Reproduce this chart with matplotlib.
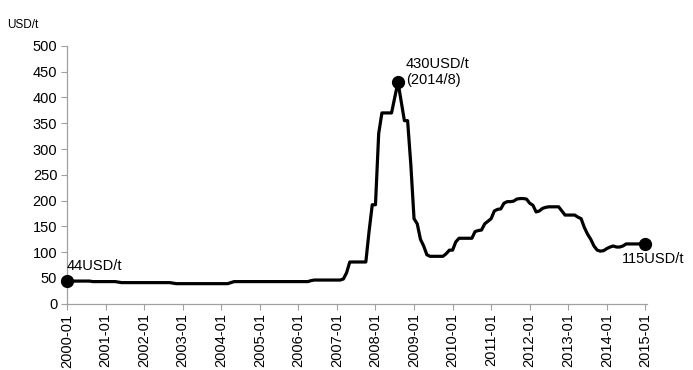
import matplotlib
matplotlib.use("Agg")
import matplotlib.pyplot as plt
import numpy as np

plt.rcParams['font.family'] = ['Liberation Sans', 'DejaVu Sans']

years = list(range(2000, 2016))
p2000 = [44, 44, 44, 44, 44, 44, 44, 44, 43, 43, 43, 43]
p2001 = [43, 43, 43, 43, 42, 41, 41, 41, 41, 41, 41, 41]
p2002 = [41, 41, 41, 41, 41, 41, 41, 41, 41, 40, 39, 39]
p2003 = [39, 39, 39, 39, 39, 39, 39, 39, 39, 39, 39, 39]
p2004 = [39, 39, 39, 41, 43, 43, 43, 43, 43, 43, 43, 43]
p2005 = [43, 43, 43, 43, 43, 43, 43, 43, 43, 43, 43, 43]
p2006 = [43, 43, 43, 43, 45, 46, 46, 46, 46, 46, 46, 46]
p2007 = [46, 46, 48, 60, 81, 81, 81, 81, 81, 81, 140, 192]
p2008 = [192, 330, 370, 370, 370, 370, 400, 430, 392, 355, 355, 270]
p2009 = [165, 155, 125, 112, 95, 92, 92, 92, 92, 92, 97, 104]
p2010 = [104, 120, 127, 127, 127, 127, 127, 140, 142, 143, 155, 160]
p2011 = [165, 180, 183, 184, 195, 198, 198, 199, 203, 204, 204, 203]
p2012 = [195, 191, 178, 180, 185, 187, 188, 188, 188, 188, 180, 172]
p2013 = [172, 172, 172, 168, 165, 148, 135, 125, 112, 104, 102, 103]
p2014 = [107, 110, 112, 110, 110, 112, 116, 116, 116, 116, 116, 116]
p2015 = [115]

prices = (p2000 + p2001 + p2002 + p2003 + p2004 + p2005 + p2006 + p2007 +
          p2008 + p2009 + p2010 + p2011 + p2012 + p2013 + p2014 + p2015)
tick_labels = [f"{y}-01" for y in years]
y_ticks = [0, 50, 100, 150, 200, 250, 300, 350, 400, 450, 500]

fs = 10.5
fig = plt.figure(figsize=(6.93, 3.70), dpi=100)
ax = fig.add_axes([0.0967, 0.179, 0.9336 - 0.0967, 0.876 - 0.179])

x = np.arange(len(prices))
ax.plot(x, prices, color='black', lw=2.3, solid_joinstyle='round', zorder=3)

peak_i = int(np.argmax(prices))
marks = [0, peak_i, len(prices) - 1]
ax.plot([x[i] for i in marks], [prices[i] for i in marks], 'o', color='black',
        ms=8.5, zorder=4, clip_on=False)

ax.annotate("44USD/t", (x[0], prices[0]), xytext=(0, 8), textcoords='offset pixels',
            ha='left', va='bottom', fontsize=fs)
ax.annotate("430USD/t\n(2014/8)", (x[peak_i], prices[peak_i]), xytext=(8, 10),
            textcoords='offset pixels', ha='left', va='center', fontsize=fs,
            linespacing=1.25)
ax.annotate("115USD/t", (x[-1], prices[-1]), xytext=(8, -8), textcoords='offset pixels',
            ha='center', va='top', fontsize=fs)

ax.set_xlim(0, 180.5)
ax.set_ylim(0, 500)
ax.set_yticks(y_ticks)
ax.set_xticks(np.arange(0, len(prices), 12))
ax.set_xticklabels(tick_labels, rotation=90, fontsize=fs)
ax.tick_params(axis='y', labelsize=fs, length=4, color='#a0a0a0', width=0.8, pad=3)
ax.tick_params(axis='x', length=4, color='#a0a0a0', width=0.8, pad=3)

for s in ['top', 'right']:
    ax.spines[s].set_visible(False)
for s in ['left', 'bottom']:
    ax.spines[s].set_color('#a0a0a0')
    ax.spines[s].set_linewidth(0.9)

fig.text(0.011, 0.915, "USD/t", fontsize=8.5, ha='left', va='bottom')

fig.savefig("out.png", dpi=100)
